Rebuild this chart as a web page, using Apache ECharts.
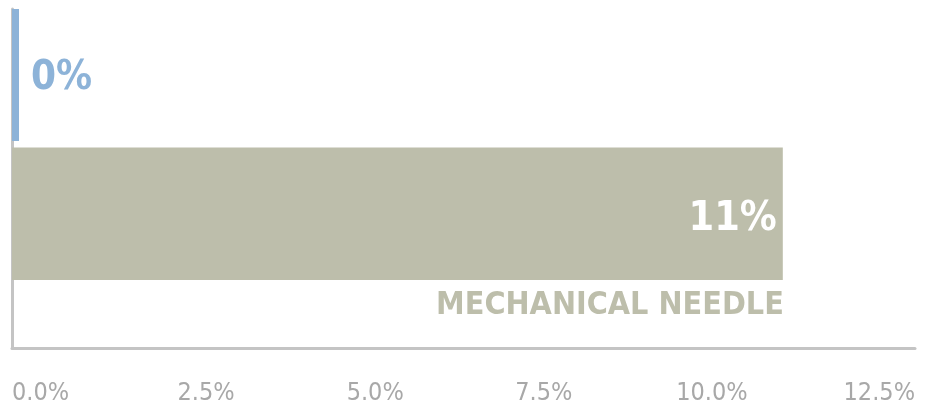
<!DOCTYPE html>
<html>
<head>
<meta charset="utf-8">
<script src="https://cdn.jsdelivr.net/npm/echarts@6/dist/echarts.min.js"></script>
<style>
    html, body {margin: 0; padding: 0; background: #fff;}
    #chart {width: 930px; height: 406px;}
</style>
</head>
<body>
<div id="chart"></div>
<script>
var categories = ['MECHANICAL NEEDLE'];
var blueValues = [0];
var greenValues = [10.67];
var tickValues = [0, 2.5, 5, 7.5, 10, 12.5];

var FONT = "'Liberation Sans Narrow', 'DejaVu Sans Condensed', sans-serif";
// small nudges so the tick labels spread like the original
var labelPad = [null, [0, 0, 0, 27], [0, 0, 0, 4], [0, 20, 0, 0], [0, 45, 0, 0], null];
var rich = {};
labelPad.forEach(function (p, i) {
    rich['p' + i] = {
        fontFamily: FONT, fontSize: 25, color: '#a8a8a8',
        padding: p || [0, 0, 0, 0]
    };
});

var myChart = echarts.init(document.getElementById('chart'));
myChart.setOption({
    animation: false,
    grid: {left: 12, right: 15, top: 9, bottom: 57},
    xAxis: {
        type: 'value',
        min: tickValues[0],
        max: tickValues[tickValues.length - 1],
        interval: 2.5,
        splitLine: {show: false},
        axisTick: {show: false},
        axisLine: {show: true, lineStyle: {color: '#c4c4c4', width: 3}},
        axisLabel: {
            margin: 33,
            alignMinLabel: 'left',
            alignMaxLabel: 'right',
            formatter: function (v) {
                var i = tickValues.indexOf(v);
                return '{p' + i + '|' + v.toFixed(1) + '%}';
            },
            rich: rich
        }
    },
    yAxis: {
        type: 'category',
        data: categories,
        inverse: true,
        axisTick: {show: false},
        axisLabel: {show: false},
        axisLine: {show: true, lineStyle: {color: '#c4c4c4', width: 3}}
    },
    series: [
        {
            name: 'blue',
            type: 'bar',
            data: blueValues,
            barWidth: 132.5,
            barGap: '5%',
            barCategoryGap: 0,
            barMinHeight: 7,
            itemStyle: {color: '#8db3d8'},
            label: {
                show: true,
                position: 'right',
                distance: 12,
                offset: [0, 4],
                fontFamily: FONT,
                fontWeight: 'bold',
                fontSize: 40,
                color: '#8db3d8',
                formatter: function (p) { return Math.round(p.value) + '%'; }
            }
        },
        {
            name: 'green',
            type: 'bar',
            data: greenValues,
            barWidth: 132.5,
            barGap: '5%',
            itemStyle: {color: '#bdbeab'},
            label: {
                show: true,
                position: 'insideRight',
                distance: 6,
                offset: [0, 5],
                fontFamily: FONT,
                fontWeight: 'bold',
                fontSize: 41,
                color: '#ffffff',
                formatter: function (p) { return Math.round(p.value) + '%'; }
            }
        },
        {
            name: 'name',
            type: 'bar',
            data: greenValues,
            barWidth: 61.8,
            barGap: '5%',
            silent: true,
            itemStyle: {color: 'rgba(0,0,0,0)'},
            label: {
                show: true,
                position: ['100%', 0],
                align: 'right',
                verticalAlign: 'top',
                offset: [1, 3],
                fontFamily: FONT,
                fontWeight: 'bold',
                fontSize: 32,
                color: '#bdbeab',
                formatter: function (p) { return p.name; }
            }
        }
    ]
});
</script>
</body>
</html>
